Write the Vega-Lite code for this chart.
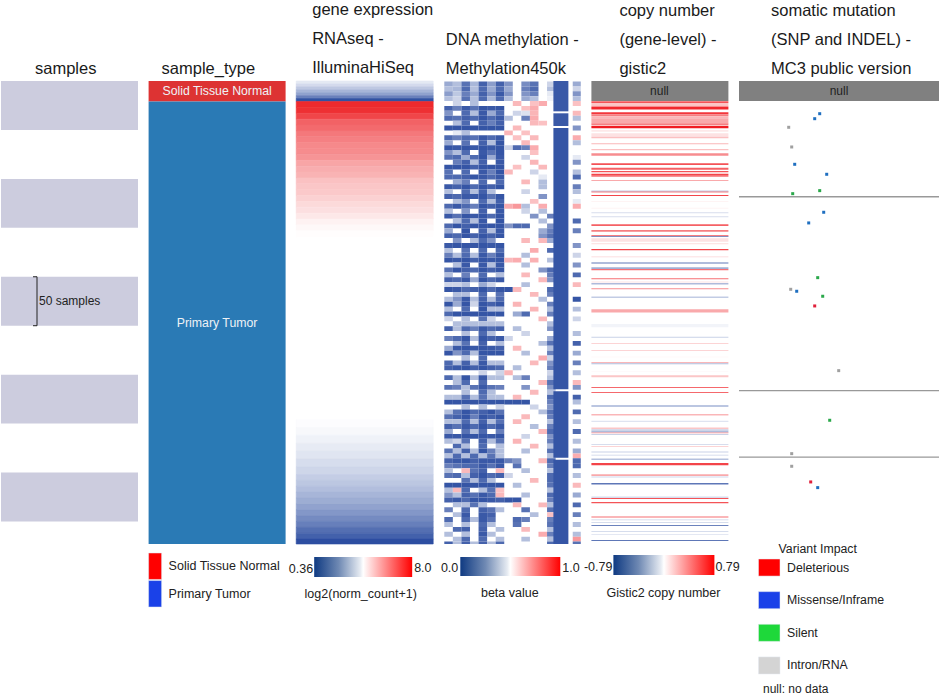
{"$schema":"https://vega.github.io/schema/vega-lite/v6.json","padding":{"left":1,"top":2,"right":0,"bottom":0},"background":"white","bounds":"flush","align":"each","columns":6,"spacing":{"column":10.6,"row":0},
"config":{"view":{"stroke":null},"font":"Liberation Sans","title":{"font":"Liberation Sans","fontSize":16.5,"fontWeight":"normal","anchor":"start","lineHeight":29,"color":"#1a1a1a","offset":4,"frame":"group"},"text":{"font":"Liberation Sans","color":"#222222"}},
"datasets":{
"samples":[{"s":0,"e":50},{"s":100,"e":150},{"s":200,"e":250},{"s":300,"e":350},{"s":400,"e":450}],
"types":[{"s":0,"e":21,"t":"Solid Tissue Normal"},{"s":21,"e":473,"t":"Primary Tumor"}],
"expr":[{"s":0,"e":3,"v":3.7},{"s":3,"e":6,"v":3.4},{"s":6,"e":9,"v":3.0},{"s":9,"e":12,"v":2.6},{"s":12,"e":15,"v":2.2},{"s":15,"e":18,"v":1.5},{"s":18,"e":21,"v":0.5},
{"s":21,"e":27,"v":8},{"s":27,"e":33,"v":7.9},{"s":33,"e":39,"v":7.5},{"s":39,"e":45,"v":7.0},{"s":45,"e":51,"v":6.85},{"s":51,"e":57,"v":6.6},{"s":57,"e":63,"v":6.45},{"s":63,"e":69,"v":6.3},{"s":69,"e":75,"v":6.25},{"s":75,"e":81,"v":6.1},{"s":81,"e":87,"v":5.8},{"s":87,"e":93,"v":5.65},{"s":93,"e":99,"v":5.55},{"s":99,"e":105,"v":5.3},{"s":105,"e":111,"v":5.2},{"s":111,"e":117,"v":5.15},{"s":117,"e":123,"v":5.0},{"s":123,"e":129,"v":4.85},{"s":129,"e":135,"v":4.75},{"s":135,"e":141,"v":4.6},{"s":141,"e":147,"v":4.42},{"s":147,"e":153,"v":4.3},{"s":153,"e":159,"v":4.22},
{"s":346,"e":354,"v":4.12},{"s":354,"e":362,"v":4.03},{"s":362,"e":370,"v":3.9},{"s":370,"e":378,"v":3.75},{"s":378,"e":386,"v":3.62},{"s":386,"e":394,"v":3.45},{"s":394,"e":402,"v":3.3},{"s":402,"e":408,"v":3.12},{"s":408,"e":414,"v":2.98},{"s":414,"e":420,"v":2.8},{"s":420,"e":426,"v":2.6},{"s":426,"e":432,"v":2.42},{"s":432,"e":438,"v":2.2},{"s":438,"e":444,"v":1.95},{"s":444,"e":450,"v":1.7},{"s":450,"e":456,"v":1.45},{"s":456,"e":462,"v":1.1},{"s":462,"e":468,"v":0.8},{"s":468,"e":473,"v":0.4}],
"strip":[{"s":0,"e":31,"p":12.8,"q":14.55,"v":0.06},{"s":33,"e":46,"p":12.8,"q":14.55,"v":0.06},{"s":48,"e":315,"p":12.8,"q":14.55,"v":0.05},{"s":317,"e":385,"p":12.8,"q":14.55,"v":0.05},{"s":387,"e":473,"p":12.8,"q":14.55,"v":0.05}],
"meth":[
{"s":0,"p":0,"v":0.25},{"s":0,"p":1,"v":0.3},{"s":0,"p":2,"v":0.12},{"s":0,"p":3,"v":0.28},{"s":0,"p":4,"v":0.08},{"s":0,"p":5,"v":0.22},{"s":0,"p":6,"v":0.08},{"s":0,"p":7,"v":0.2},{"s":0,"p":9,"v":0.18},{"s":0,"p":10,"v":0.12},{"s":0,"p":12,"v":0.35},{"s":0,"p":15,"v":0.25},
{"s":5,"p":0,"v":0.3},{"s":5,"p":1,"v":0.28},{"s":5,"p":2,"v":0.1},{"s":5,"p":3,"v":0.3},{"s":5,"p":4,"v":0.1},{"s":5,"p":5,"v":0.25},{"s":5,"p":6,"v":0.1},{"s":5,"p":7,"v":0.25},{"s":5,"p":9,"v":0.15},{"s":5,"p":10,"v":0.1},{"s":5,"p":12,"v":0.3},{"s":5,"p":15,"v":0.35},
{"s":10,"p":0,"v":0.22},{"s":10,"p":1,"v":0.32},{"s":10,"p":2,"v":0.15},{"s":10,"p":3,"v":0.25},{"s":10,"p":4,"v":0.08},{"s":10,"p":5,"v":0.2},{"s":10,"p":6,"v":0.06},{"s":10,"p":7,"v":0.2},{"s":10,"p":9,"v":0.2},{"s":10,"p":10,"v":0.15},{"s":10,"p":12,"v":0.4},{"s":10,"p":15,"v":0.2},
{"s":15,"p":0,"v":0.3},{"s":15,"p":1,"v":0.35},{"s":15,"p":2,"v":0.12},{"s":15,"p":3,"v":0.3},{"s":15,"p":4,"v":0.1},{"s":15,"p":5,"v":0.28},{"s":15,"p":6,"v":0.1},{"s":15,"p":7,"v":0.3},{"s":15,"p":9,"v":0.25},{"s":15,"p":10,"v":0.3},{"s":15,"p":12,"v":0.42},{"s":15,"p":15,"v":0.3},
{"s":20,"p":1,"v":0.35},{"s":20,"p":3,"v":0.3},{"s":20,"p":8,"v":0.62},{"s":20,"p":10,"v":0.6},{"s":20,"p":11,"v":0.65},{"s":20,"p":15,"v":0.6},
{"s":25,"p":0,"v":0.08},{"s":25,"p":1,"v":0.15},{"s":25,"p":2,"v":0.06},{"s":25,"p":3,"v":0.12},{"s":25,"p":4,"v":0.05},{"s":25,"p":5,"v":0.06},{"s":25,"p":6,"v":0.05},{"s":25,"p":9,"v":0.6},{"s":25,"p":10,"v":0.65},
{"s":30,"p":0,"v":0.2},{"s":30,"p":2,"v":0.1},{"s":30,"p":3,"v":0.3},{"s":30,"p":4,"v":0.06},{"s":30,"p":5,"v":0.25},{"s":30,"p":6,"v":0.1},{"s":30,"p":8,"v":0.35},{"s":30,"p":9,"v":0.38},{"s":30,"p":10,"v":0.63},{"s":30,"p":15,"v":0.62},
{"s":35,"p":0,"v":0.1},{"s":35,"p":1,"v":0.12},{"s":35,"p":2,"v":0.08},{"s":35,"p":3,"v":0.1},{"s":35,"p":4,"v":0.05},{"s":35,"p":5,"v":0.1},{"s":35,"p":6,"v":0.06},{"s":35,"p":7,"v":0.3},{"s":35,"p":9,"v":0.15},{"s":35,"p":10,"v":0.65},{"s":35,"p":15,"v":0.3},
{"s":40,"p":1,"v":0.3},{"s":40,"p":2,"v":0.1},{"s":40,"p":4,"v":0.08},{"s":40,"p":5,"v":0.15},{"s":40,"p":6,"v":0.08},{"s":40,"p":10,"v":0.62},{"s":40,"p":11,"v":0.6},
{"s":45,"p":0,"v":0.05},{"s":45,"p":1,"v":0.05},{"s":45,"p":2,"v":0.05},{"s":45,"p":3,"v":0.05},{"s":45,"p":4,"v":0.05},{"s":45,"p":5,"v":0.05},{"s":45,"p":6,"v":0.05},{"s":45,"p":8,"v":0.62},{"s":45,"p":15,"v":0.2},
{"s":50,"p":1,"v":0.4},{"s":50,"p":2,"v":0.3},{"s":50,"p":7,"v":0.63},{"s":50,"p":9,"v":0.6},
{"s":55,"p":0,"v":0.1},{"s":55,"p":1,"v":0.15},{"s":55,"p":2,"v":0.1},{"s":55,"p":3,"v":0.12},{"s":55,"p":4,"v":0.06},{"s":55,"p":5,"v":0.1},{"s":55,"p":6,"v":0.06},{"s":55,"p":8,"v":0.6},{"s":55,"p":10,"v":0.62},{"s":55,"p":15,"v":0.65},
{"s":60,"p":0,"v":0.25},{"s":60,"p":2,"v":0.12},{"s":60,"p":4,"v":0.08},{"s":60,"p":5,"v":0.3},{"s":60,"p":6,"v":0.05},{"s":60,"p":9,"v":0.62},{"s":60,"p":15,"v":0.3},
{"s":65,"p":0,"v":0.05},{"s":65,"p":1,"v":0.06},{"s":65,"p":2,"v":0.05},{"s":65,"p":3,"v":0.06},{"s":65,"p":4,"v":0.05},{"s":65,"p":5,"v":0.06},{"s":65,"p":6,"v":0.05},{"s":65,"p":7,"v":0.35},{"s":65,"p":8,"v":0.1},{"s":65,"p":9,"v":0.15},{"s":65,"p":10,"v":0.65},
{"s":70,"p":0,"v":0.2},{"s":70,"p":1,"v":0.3},{"s":70,"p":2,"v":0.1},{"s":70,"p":4,"v":0.06},{"s":70,"p":5,"v":0.12},{"s":70,"p":6,"v":0.05},{"s":70,"p":10,"v":0.6},
{"s":75,"p":0,"v":0.12},{"s":75,"p":1,"v":0.1},{"s":75,"p":2,"v":0.25},{"s":75,"p":3,"v":0.1},{"s":75,"p":4,"v":0.05},{"s":75,"p":5,"v":0.25},{"s":75,"p":6,"v":0.06},{"s":75,"p":9,"v":0.35},{"s":75,"p":15,"v":0.4},
{"s":80,"p":1,"v":0.15},{"s":80,"p":2,"v":0.08},{"s":80,"p":3,"v":0.3},{"s":80,"p":4,"v":0.08},{"s":80,"p":6,"v":0.06},{"s":80,"p":10,"v":0.63},{"s":80,"p":15,"v":0.2},
{"s":85,"p":0,"v":0.05},{"s":85,"p":1,"v":0.05},{"s":85,"p":2,"v":0.05},{"s":85,"p":3,"v":0.08},{"s":85,"p":4,"v":0.05},{"s":85,"p":5,"v":0.05},{"s":85,"p":6,"v":0.05},{"s":85,"p":8,"v":0.6},{"s":85,"p":11,"v":0.62},
{"s":90,"p":0,"v":0.12},{"s":90,"p":2,"v":0.1},{"s":90,"p":4,"v":0.06},{"s":90,"p":5,"v":0.15},{"s":90,"p":6,"v":0.05},{"s":90,"p":7,"v":0.62},{"s":90,"p":10,"v":0.35},{"s":90,"p":15,"v":0.3},
{"s":95,"p":0,"v":0.1},{"s":95,"p":1,"v":0.1},{"s":95,"p":2,"v":0.08},{"s":95,"p":3,"v":0.05},{"s":95,"p":4,"v":0.06},{"s":95,"p":5,"v":0.1},{"s":95,"p":6,"v":0.06},{"s":95,"p":11,"v":0.4},{"s":95,"p":15,"v":0.1},
{"s":100,"p":1,"v":0.25},{"s":100,"p":2,"v":0.15},{"s":100,"p":4,"v":0.1},{"s":100,"p":6,"v":0.1},{"s":100,"p":9,"v":0.62},{"s":100,"p":11,"v":0.3},
{"s":105,"p":0,"v":0.06},{"s":105,"p":1,"v":0.08},{"s":105,"p":2,"v":0.05},{"s":105,"p":3,"v":0.1},{"s":105,"p":4,"v":0.05},{"s":105,"p":5,"v":0.08},{"s":105,"p":6,"v":0.05},{"s":105,"p":11,"v":0.3},{"s":105,"p":15,"v":0.15},
{"s":110,"p":0,"v":0.3},{"s":110,"p":2,"v":0.1},{"s":110,"p":3,"v":0.3},{"s":110,"p":4,"v":0.08},{"s":110,"p":5,"v":0.3},{"s":110,"p":9,"v":0.35},{"s":110,"p":15,"v":0.3},
{"s":115,"p":0,"v":0.08},{"s":115,"p":1,"v":0.1},{"s":115,"p":2,"v":0.06},{"s":115,"p":3,"v":0.06},{"s":115,"p":4,"v":0.05},{"s":115,"p":5,"v":0.12},{"s":115,"p":6,"v":0.05},{"s":115,"p":11,"v":0.2},
{"s":120,"p":1,"v":0.3},{"s":120,"p":2,"v":0.2},{"s":120,"p":4,"v":0.1},{"s":120,"p":5,"v":0.3},{"s":120,"p":6,"v":0.08},{"s":120,"p":10,"v":0.6},{"s":120,"p":15,"v":0.4},
{"s":125,"p":0,"v":0.1},{"s":125,"p":1,"v":0.06},{"s":125,"p":2,"v":0.1},{"s":125,"p":3,"v":0.15},{"s":125,"p":4,"v":0.05},{"s":125,"p":5,"v":0.08},{"s":125,"p":6,"v":0.05},{"s":125,"p":7,"v":0.65},{"s":125,"p":8,"v":0.7},{"s":125,"p":9,"v":0.3},{"s":125,"p":11,"v":0.65},{"s":125,"p":15,"v":0.65},
{"s":130,"p":0,"v":0.3},{"s":130,"p":2,"v":0.2},{"s":130,"p":4,"v":0.08},{"s":130,"p":6,"v":0.06},{"s":130,"p":9,"v":0.35},{"s":130,"p":11,"v":0.3},
{"s":135,"p":0,"v":0.06},{"s":135,"p":1,"v":0.12},{"s":135,"p":2,"v":0.05},{"s":135,"p":3,"v":0.06},{"s":135,"p":4,"v":0.05},{"s":135,"p":5,"v":0.1},{"s":135,"p":6,"v":0.05},{"s":135,"p":10,"v":0.2},{"s":135,"p":12,"v":0.15},
{"s":140,"p":1,"v":0.3},{"s":140,"p":2,"v":0.1},{"s":140,"p":3,"v":0.3},{"s":140,"p":4,"v":0.06},{"s":140,"p":6,"v":0.05},{"s":140,"p":11,"v":0.3},{"s":140,"p":15,"v":0.1},
{"s":145,"p":0,"v":0.1},{"s":145,"p":1,"v":0.05},{"s":145,"p":2,"v":0.08},{"s":145,"p":3,"v":0.05},{"s":145,"p":4,"v":0.05},{"s":145,"p":5,"v":0.05},{"s":145,"p":6,"v":0.05},{"s":145,"p":7,"v":0.2},{"s":145,"p":8,"v":0.1},{"s":145,"p":9,"v":0.1},{"s":145,"p":12,"v":0.2},
{"s":150,"p":0,"v":0.25},{"s":150,"p":2,"v":0.05},{"s":150,"p":4,"v":0.08},{"s":150,"p":5,"v":0.3},{"s":150,"p":6,"v":0.06},{"s":150,"p":11,"v":0.25},{"s":150,"p":12,"v":0.15},{"s":150,"p":15,"v":0.15},
{"s":155,"p":0,"v":0.08},{"s":155,"p":1,"v":0.1},{"s":155,"p":2,"v":0.05},{"s":155,"p":3,"v":0.08},{"s":155,"p":4,"v":0.05},{"s":155,"p":5,"v":0.08},{"s":155,"p":6,"v":0.05},{"s":155,"p":11,"v":0.2},{"s":155,"p":12,"v":0.12},
{"s":160,"p":1,"v":0.2},{"s":160,"p":3,"v":0.3},{"s":160,"p":4,"v":0.1},{"s":160,"p":5,"v":0.2},{"s":160,"p":9,"v":0.62},{"s":160,"p":11,"v":0.62},{"s":160,"p":12,"v":0.25},
{"s":165,"p":0,"v":0.06},{"s":165,"p":1,"v":0.05},{"s":165,"p":2,"v":0.05},{"s":165,"p":3,"v":0.05},{"s":165,"p":4,"v":0.05},{"s":165,"p":5,"v":0.06},{"s":165,"p":6,"v":0.05},{"s":165,"p":15,"v":0.2},
{"s":170,"p":0,"v":0.3},{"s":170,"p":2,"v":0.12},{"s":170,"p":4,"v":0.1},{"s":170,"p":6,"v":0.1},{"s":170,"p":10,"v":0.65},{"s":170,"p":12,"v":0.1},
{"s":175,"p":0,"v":0.15},{"s":175,"p":1,"v":0.3},{"s":175,"p":2,"v":0.1},{"s":175,"p":3,"v":0.3},{"s":175,"p":4,"v":0.06},{"s":175,"p":5,"v":0.15},{"s":175,"p":6,"v":0.06},{"s":175,"p":9,"v":0.3},{"s":175,"p":15,"v":0.35},
{"s":180,"p":0,"v":0.05},{"s":180,"p":1,"v":0.06},{"s":180,"p":2,"v":0.05},{"s":180,"p":3,"v":0.08},{"s":180,"p":4,"v":0.05},{"s":180,"p":5,"v":0.06},{"s":180,"p":6,"v":0.05},{"s":180,"p":7,"v":0.62},{"s":180,"p":8,"v":0.65},{"s":180,"p":10,"v":0.64},{"s":180,"p":12,"v":0.3},
{"s":185,"p":1,"v":0.3},{"s":185,"p":2,"v":0.06},{"s":185,"p":4,"v":0.06},{"s":185,"p":5,"v":0.3},{"s":185,"p":6,"v":0.06},{"s":185,"p":9,"v":0.3},{"s":185,"p":15,"v":0.2},
{"s":190,"p":0,"v":0.12},{"s":190,"p":1,"v":0.05},{"s":190,"p":2,"v":0.08},{"s":190,"p":3,"v":0.1},{"s":190,"p":4,"v":0.05},{"s":190,"p":5,"v":0.08},{"s":190,"p":6,"v":0.05},{"s":190,"p":11,"v":0.2},{"s":190,"p":12,"v":0.1},
{"s":195,"p":0,"v":0.3},{"s":195,"p":2,"v":0.15},{"s":195,"p":4,"v":0.1},{"s":195,"p":6,"v":0.3},{"s":195,"p":9,"v":0.62},{"s":195,"p":12,"v":0.15},{"s":195,"p":15,"v":0.1},
{"s":200,"p":0,"v":0.08},{"s":200,"p":1,"v":0.1},{"s":200,"p":2,"v":0.06},{"s":200,"p":3,"v":0.25},{"s":200,"p":4,"v":0.05},{"s":200,"p":5,"v":0.1},{"s":200,"p":6,"v":0.06},{"s":200,"p":11,"v":0.62},{"s":200,"p":12,"v":0.2},
{"s":205,"p":0,"v":0.35},{"s":205,"p":1,"v":0.35},{"s":205,"p":2,"v":0.3},{"s":205,"p":4,"v":0.25},{"s":205,"p":5,"v":0.35},{"s":205,"p":9,"v":0.3},{"s":205,"p":15,"v":0.62},
{"s":210,"p":0,"v":0.05},{"s":210,"p":1,"v":0.06},{"s":210,"p":2,"v":0.1},{"s":210,"p":3,"v":0.08},{"s":210,"p":4,"v":0.05},{"s":210,"p":5,"v":0.1},{"s":210,"p":6,"v":0.05},{"s":210,"p":7,"v":0.05},{"s":210,"p":8,"v":0.62},{"s":210,"p":12,"v":0.1},
{"s":215,"p":1,"v":0.3},{"s":215,"p":2,"v":0.3},{"s":215,"p":4,"v":0.1},{"s":215,"p":6,"v":0.12},{"s":215,"p":10,"v":0.62},{"s":215,"p":12,"v":0.15},
{"s":220,"p":0,"v":0.3},{"s":220,"p":1,"v":0.2},{"s":220,"p":2,"v":0.06},{"s":220,"p":3,"v":0.3},{"s":220,"p":4,"v":0.08},{"s":220,"p":5,"v":0.3},{"s":220,"p":6,"v":0.1},{"s":220,"p":11,"v":0.3},{"s":220,"p":15,"v":0.05},
{"s":225,"p":0,"v":0.05},{"s":225,"p":1,"v":0.25},{"s":225,"p":2,"v":0.05},{"s":225,"p":3,"v":0.35},{"s":225,"p":4,"v":0.05},{"s":225,"p":5,"v":0.08},{"s":225,"p":6,"v":0.05},{"s":225,"p":8,"v":0.63},{"s":225,"p":12,"v":0.15},
{"s":230,"p":0,"v":0.3},{"s":230,"p":2,"v":0.1},{"s":230,"p":4,"v":0.05},{"s":230,"p":5,"v":0.3},{"s":230,"p":6,"v":0.3},{"s":230,"p":10,"v":0.63},{"s":230,"p":12,"v":0.3},{"s":230,"p":15,"v":0.3},
{"s":235,"p":0,"v":0.1},{"s":235,"p":1,"v":0.05},{"s":235,"p":2,"v":0.05},{"s":235,"p":3,"v":0.05},{"s":235,"p":4,"v":0.05},{"s":235,"p":5,"v":0.05},{"s":235,"p":6,"v":0.05},{"s":235,"p":8,"v":0.25},{"s":235,"p":9,"v":0.1},{"s":235,"p":12,"v":0.15},
{"s":240,"p":0,"v":0.35},{"s":240,"p":2,"v":0.3},{"s":240,"p":4,"v":0.12},{"s":240,"p":5,"v":0.35},{"s":240,"p":11,"v":0.62},{"s":240,"p":15,"v":0.35},
{"s":245,"p":1,"v":0.3},{"s":245,"p":2,"v":0.3},{"s":245,"p":3,"v":0.3},{"s":245,"p":4,"v":0.3},{"s":245,"p":5,"v":0.3},{"s":245,"p":6,"v":0.3},{"s":245,"p":12,"v":0.3},
{"s":250,"p":0,"v":0.08},{"s":250,"p":1,"v":0.3},{"s":250,"p":2,"v":0.1},{"s":250,"p":3,"v":0.15},{"s":250,"p":4,"v":0.06},{"s":250,"p":5,"v":0.1},{"s":250,"p":6,"v":0.08},{"s":250,"p":8,"v":0.3},{"s":250,"p":12,"v":0.2},
{"s":255,"p":2,"v":0.3},{"s":255,"p":4,"v":0.1},{"s":255,"p":5,"v":0.3},{"s":255,"p":9,"v":0.35},{"s":255,"p":15,"v":0.3},
{"s":260,"p":0,"v":0.15},{"s":260,"p":1,"v":0.1},{"s":260,"p":2,"v":0.05},{"s":260,"p":3,"v":0.3},{"s":260,"p":4,"v":0.05},{"s":260,"p":5,"v":0.08},{"s":260,"p":6,"v":0.06},{"s":260,"p":7,"v":0.35},{"s":260,"p":12,"v":0.25},
{"s":265,"p":1,"v":0.3},{"s":265,"p":2,"v":0.12},{"s":265,"p":4,"v":0.08},{"s":265,"p":6,"v":0.3},{"s":265,"p":11,"v":0.3},{"s":265,"p":12,"v":0.12},{"s":265,"p":15,"v":0.08},
{"s":270,"p":0,"v":0.25},{"s":270,"p":1,"v":0.06},{"s":270,"p":2,"v":0.05},{"s":270,"p":3,"v":0.06},{"s":270,"p":4,"v":0.05},{"s":270,"p":5,"v":0.06},{"s":270,"p":6,"v":0.08},{"s":270,"p":8,"v":0.62},{"s":270,"p":12,"v":0.3},
{"s":275,"p":0,"v":0.05},{"s":275,"p":1,"v":0.2},{"s":275,"p":2,"v":0.1},{"s":275,"p":3,"v":0.3},{"s":275,"p":4,"v":0.05},{"s":275,"p":5,"v":0.05},{"s":275,"p":6,"v":0.05},{"s":275,"p":9,"v":0.3},{"s":275,"p":12,"v":0.15},{"s":275,"p":15,"v":0.25},
{"s":280,"p":2,"v":0.3},{"s":280,"p":4,"v":0.1},{"s":280,"p":11,"v":0.65},{"s":280,"p":12,"v":0.35},
{"s":285,"p":0,"v":0.1},{"s":285,"p":1,"v":0.3},{"s":285,"p":2,"v":0.08},{"s":285,"p":3,"v":0.3},{"s":285,"p":4,"v":0.06},{"s":285,"p":5,"v":0.3},{"s":285,"p":6,"v":0.3},{"s":285,"p":10,"v":0.62},{"s":285,"p":12,"v":0.2},{"s":285,"p":15,"v":0.15},
{"s":290,"p":0,"v":0.08},{"s":290,"p":1,"v":0.06},{"s":290,"p":2,"v":0.05},{"s":290,"p":3,"v":0.08},{"s":290,"p":4,"v":0.05},{"s":290,"p":5,"v":0.08},{"s":290,"p":6,"v":0.1},{"s":290,"p":8,"v":0.3},{"s":290,"p":12,"v":0.15},
{"s":295,"p":4,"v":0.35},{"s":295,"p":6,"v":0.35},{"s":295,"p":7,"v":0.63},{"s":295,"p":12,"v":0.35},{"s":295,"p":15,"v":0.3},
{"s":300,"p":0,"v":0.1},{"s":300,"p":1,"v":0.3},{"s":300,"p":2,"v":0.05},{"s":300,"p":3,"v":0.3},{"s":300,"p":4,"v":0.06},{"s":300,"p":5,"v":0.3},{"s":300,"p":6,"v":0.3},{"s":300,"p":8,"v":0.3},{"s":300,"p":9,"v":0.15},{"s":300,"p":12,"v":0.3},
{"s":305,"p":1,"v":0.3},{"s":305,"p":2,"v":0.1},{"s":305,"p":4,"v":0.1},{"s":305,"p":11,"v":0.62},{"s":305,"p":12,"v":0.12},{"s":305,"p":15,"v":0.62},
{"s":310,"p":0,"v":0.12},{"s":310,"p":1,"v":0.15},{"s":310,"p":2,"v":0.3},{"s":310,"p":3,"v":0.12},{"s":310,"p":4,"v":0.06},{"s":310,"p":5,"v":0.12},{"s":310,"p":6,"v":0.15},{"s":310,"p":9,"v":0.2},{"s":310,"p":12,"v":0.2},{"s":310,"p":15,"v":0.2},
{"s":315,"p":2,"v":0.3},{"s":315,"p":4,"v":0.1},{"s":315,"p":5,"v":0.3},{"s":315,"p":10,"v":0.62},{"s":315,"p":12,"v":0.3},
{"s":320,"p":0,"v":0.3},{"s":320,"p":1,"v":0.3},{"s":320,"p":2,"v":0.12},{"s":320,"p":3,"v":0.3},{"s":320,"p":4,"v":0.12},{"s":320,"p":5,"v":0.3},{"s":320,"p":6,"v":0.3},{"s":320,"p":8,"v":0.62},{"s":320,"p":12,"v":0.1},{"s":320,"p":15,"v":0.08},
{"s":325,"p":0,"v":0.05},{"s":325,"p":1,"v":0.05},{"s":325,"p":2,"v":0.05},{"s":325,"p":3,"v":0.05},{"s":325,"p":4,"v":0.05},{"s":325,"p":5,"v":0.05},{"s":325,"p":6,"v":0.05},{"s":325,"p":7,"v":0.05},{"s":325,"p":8,"v":0.05},{"s":325,"p":9,"v":0.05},{"s":325,"p":12,"v":0.15},{"s":325,"p":15,"v":0.3},
{"s":330,"p":2,"v":0.3},{"s":330,"p":4,"v":0.3},{"s":330,"p":6,"v":0.35},{"s":330,"p":10,"v":0.35},{"s":330,"p":12,"v":0.2},
{"s":335,"p":0,"v":0.3},{"s":335,"p":1,"v":0.12},{"s":335,"p":2,"v":0.05},{"s":335,"p":3,"v":0.1},{"s":335,"p":4,"v":0.08},{"s":335,"p":5,"v":0.05},{"s":335,"p":6,"v":0.12},{"s":335,"p":11,"v":0.3},{"s":335,"p":12,"v":0.12},{"s":335,"p":15,"v":0.1},
{"s":340,"p":0,"v":0.12},{"s":340,"p":1,"v":0.08},{"s":340,"p":2,"v":0.05},{"s":340,"p":3,"v":0.15},{"s":340,"p":4,"v":0.05},{"s":340,"p":5,"v":0.08},{"s":340,"p":6,"v":0.05},{"s":340,"p":9,"v":0.62},{"s":340,"p":12,"v":0.15},
{"s":345,"p":0,"v":0.3},{"s":345,"p":1,"v":0.3},{"s":345,"p":2,"v":0.1},{"s":345,"p":3,"v":0.3},{"s":345,"p":4,"v":0.08},{"s":345,"p":5,"v":0.3},{"s":345,"p":6,"v":0.12},{"s":345,"p":8,"v":0.62},{"s":345,"p":12,"v":0.3},{"s":345,"p":15,"v":0.3},
{"s":350,"p":0,"v":0.08},{"s":350,"p":1,"v":0.12},{"s":350,"p":2,"v":0.06},{"s":350,"p":3,"v":0.1},{"s":350,"p":4,"v":0.05},{"s":350,"p":5,"v":0.1},{"s":350,"p":6,"v":0.06},{"s":350,"p":10,"v":0.3},{"s":350,"p":12,"v":0.15},
{"s":355,"p":0,"v":0.25},{"s":355,"p":2,"v":0.12},{"s":355,"p":3,"v":0.3},{"s":355,"p":4,"v":0.1},{"s":355,"p":6,"v":0.15},{"s":355,"p":11,"v":0.62},{"s":355,"p":12,"v":0.1},{"s":355,"p":15,"v":0.1},
{"s":360,"p":0,"v":0.06},{"s":360,"p":1,"v":0.06},{"s":360,"p":2,"v":0.05},{"s":360,"p":3,"v":0.05},{"s":360,"p":4,"v":0.05},{"s":360,"p":5,"v":0.06},{"s":360,"p":6,"v":0.05},{"s":360,"p":9,"v":0.35},{"s":360,"p":12,"v":0.2},
{"s":365,"p":0,"v":0.3},{"s":365,"p":1,"v":0.35},{"s":365,"p":2,"v":0.12},{"s":365,"p":4,"v":0.08},{"s":365,"p":5,"v":0.3},{"s":365,"p":6,"v":0.12},{"s":365,"p":8,"v":0.63},{"s":365,"p":12,"v":0.15},{"s":365,"p":15,"v":0.3},
{"s":370,"p":1,"v":0.1},{"s":370,"p":2,"v":0.3},{"s":370,"p":4,"v":0.1},{"s":370,"p":6,"v":0.3},{"s":370,"p":10,"v":0.62},{"s":370,"p":12,"v":0.3},
{"s":375,"p":0,"v":0.12},{"s":375,"p":1,"v":0.3},{"s":375,"p":2,"v":0.08},{"s":375,"p":3,"v":0.3},{"s":375,"p":4,"v":0.05},{"s":375,"p":5,"v":0.15},{"s":375,"p":6,"v":0.3},{"s":375,"p":9,"v":0.3},{"s":375,"p":12,"v":0.12},{"s":375,"p":15,"v":0.25},
{"s":380,"p":0,"v":0.3},{"s":380,"p":1,"v":0.1},{"s":380,"p":2,"v":0.3},{"s":380,"p":3,"v":0.1},{"s":380,"p":4,"v":0.3},{"s":380,"p":5,"v":0.12},{"s":380,"p":6,"v":0.3},{"s":380,"p":12,"v":0.3},{"s":380,"p":15,"v":0.65},
{"s":385,"p":0,"v":0.08},{"s":385,"p":1,"v":0.06},{"s":385,"p":2,"v":0.05},{"s":385,"p":3,"v":0.08},{"s":385,"p":4,"v":0.06},{"s":385,"p":5,"v":0.06},{"s":385,"p":6,"v":0.06},{"s":385,"p":7,"v":0.15},{"s":385,"p":8,"v":0.2},{"s":385,"p":11,"v":0.62},{"s":385,"p":12,"v":0.1},{"s":385,"p":15,"v":0.1},
{"s":390,"p":0,"v":0.15},{"s":390,"p":1,"v":0.12},{"s":390,"p":2,"v":0.1},{"s":390,"p":3,"v":0.1},{"s":390,"p":4,"v":0.06},{"s":390,"p":5,"v":0.12},{"s":390,"p":6,"v":0.06},{"s":390,"p":8,"v":0.12},{"s":390,"p":12,"v":0.15},{"s":390,"p":15,"v":0.1},
{"s":395,"p":0,"v":0.3},{"s":395,"p":2,"v":0.62},{"s":395,"p":3,"v":0.12},{"s":395,"p":4,"v":0.08},{"s":395,"p":6,"v":0.62},{"s":395,"p":9,"v":0.3},{"s":395,"p":12,"v":0.3},
{"s":400,"p":0,"v":0.12},{"s":400,"p":1,"v":0.1},{"s":400,"p":2,"v":0.3},{"s":400,"p":3,"v":0.08},{"s":400,"p":4,"v":0.05},{"s":400,"p":5,"v":0.1},{"s":400,"p":6,"v":0.08},{"s":400,"p":7,"v":0.35},{"s":400,"p":12,"v":0.1},{"s":400,"p":15,"v":0.3},
{"s":405,"p":2,"v":0.12},{"s":405,"p":3,"v":0.3},{"s":405,"p":4,"v":0.1},{"s":405,"p":5,"v":0.3},{"s":405,"p":10,"v":0.62},{"s":405,"p":12,"v":0.1},
{"s":410,"p":0,"v":0.05},{"s":410,"p":1,"v":0.05},{"s":410,"p":2,"v":0.05},{"s":410,"p":3,"v":0.05},{"s":410,"p":4,"v":0.05},{"s":410,"p":5,"v":0.05},{"s":410,"p":6,"v":0.05},{"s":410,"p":8,"v":0.3},{"s":410,"p":12,"v":0.12},{"s":410,"p":15,"v":0.62},
{"s":415,"p":0,"v":0.3},{"s":415,"p":1,"v":0.62},{"s":415,"p":2,"v":0.1},{"s":415,"p":4,"v":0.3},{"s":415,"p":5,"v":0.12},{"s":415,"p":6,"v":0.6},{"s":415,"p":12,"v":0.3},
{"s":420,"p":0,"v":0.2},{"s":420,"p":1,"v":0.3},{"s":420,"p":2,"v":0.08},{"s":420,"p":3,"v":0.12},{"s":420,"p":4,"v":0.06},{"s":420,"p":5,"v":0.1},{"s":420,"p":6,"v":0.62},{"s":420,"p":9,"v":0.3},{"s":420,"p":12,"v":0.1},{"s":420,"p":15,"v":0.25},
{"s":425,"p":0,"v":0.08},{"s":425,"p":1,"v":0.06},{"s":425,"p":2,"v":0.1},{"s":425,"p":3,"v":0.05},{"s":425,"p":4,"v":0.05},{"s":425,"p":5,"v":0.06},{"s":425,"p":6,"v":0.08},{"s":425,"p":7,"v":0.05},{"s":425,"p":8,"v":0.05},{"s":425,"p":12,"v":0.15},
{"s":430,"p":1,"v":0.3},{"s":430,"p":2,"v":0.3},{"s":430,"p":3,"v":0.12},{"s":430,"p":4,"v":0.3},{"s":430,"p":8,"v":0.62},{"s":430,"p":11,"v":0.62},{"s":430,"p":12,"v":0.3},{"s":430,"p":15,"v":0.1},
{"s":435,"p":0,"v":0.15},{"s":435,"p":2,"v":0.1},{"s":435,"p":4,"v":0.08},{"s":435,"p":5,"v":0.12},{"s":435,"p":6,"v":0.3},{"s":435,"p":9,"v":0.12},{"s":435,"p":12,"v":0.12},
{"s":440,"p":1,"v":0.3},{"s":440,"p":2,"v":0.06},{"s":440,"p":4,"v":0.06},{"s":440,"p":5,"v":0.08},{"s":440,"p":10,"v":0.3},{"s":440,"p":12,"v":0.6},{"s":440,"p":15,"v":0.15},
{"s":445,"p":0,"v":0.1},{"s":445,"p":2,"v":0.1},{"s":445,"p":3,"v":0.3},{"s":445,"p":4,"v":0.06},{"s":445,"p":5,"v":0.12},{"s":445,"p":8,"v":0.1},{"s":445,"p":9,"v":0.15},{"s":445,"p":12,"v":0.15},
{"s":450,"p":0,"v":0.3},{"s":450,"p":2,"v":0.3},{"s":450,"p":4,"v":0.1},{"s":450,"p":5,"v":0.3},{"s":450,"p":8,"v":0.12},{"s":450,"p":12,"v":0.12},{"s":450,"p":15,"v":0.3},
{"s":455,"p":1,"v":0.1},{"s":455,"p":2,"v":0.08},{"s":455,"p":4,"v":0.08},{"s":455,"p":6,"v":0.3},{"s":455,"p":9,"v":0.62},{"s":455,"p":12,"v":0.3},
{"s":460,"p":0,"v":0.3},{"s":460,"p":2,"v":0.3},{"s":460,"p":4,"v":0.06},{"s":460,"p":5,"v":0.3},{"s":460,"p":11,"v":0.65},{"s":460,"p":12,"v":0.15},{"s":460,"p":15,"v":0.3},
{"s":465,"p":1,"v":0.3},{"s":465,"p":2,"v":0.1},{"s":465,"p":4,"v":0.1},{"s":465,"p":6,"v":0.3},{"s":465,"p":9,"v":0.3},{"s":465,"p":12,"v":0.3},{"s":465,"p":15,"v":0.7},
{"s":470,"p":0,"v":0.08},{"s":470,"p":1,"v":0.3},{"s":470,"p":2,"v":0.08},{"s":470,"p":3,"v":0.3},{"s":470,"p":4,"v":0.08},{"s":470,"p":5,"v":0.3},{"s":470,"p":6,"v":0.1},{"s":470,"p":12,"v":0.1},{"s":470,"p":15,"v":0.12}
],
"cnv":[{"s":20.8,"e":22.5,"v":0.6},{"s":22.5,"e":25.2,"v":0.2},{"s":25.2,"e":26.6,"v":0.4},{"s":26.6,"e":29,"v":0.75},{"s":32,"e":34,"v":0.7},{"s":34,"e":36,"v":0.45},{"s":36,"e":38,"v":0.25},{"s":38,"e":43.2,"v":0.3},{"s":43.2,"e":45,"v":0.45},{"s":45.6,"e":48.3,"v":0.79},{"s":50,"e":51.8,"v":0.08},{"s":53.5,"e":56.9,"v":0.1},{"s":56.9,"e":58.6,"v":0.22},{"s":63.7,"e":64.7,"v":0.25},{"s":69.5,"e":70.8,"v":0.22},{"s":73.9,"e":76.3,"v":0.4},{"s":84.1,"e":85.8,"v":0.6},{"s":88.5,"e":90.6,"v":0.55},{"s":92,"e":93.3,"v":0.6},{"s":94.7,"e":96.7,"v":0.65},{"s":97.4,"e":98.2,"v":0.5},{"s":101.1,"e":102.1,"v":0.3},{"s":112,"e":113,"v":-0.45},{"s":113,"e":114,"v":0.45},{"s":116.4,"e":117.5,"v":0.65},{"s":122.6,"e":123.6,"v":0.04},{"s":129.4,"e":130.4,"v":0.04},{"s":134.2,"e":135.2,"v":-0.15},{"s":138.2,"e":139.2,"v":-0.15},{"s":146.4,"e":148.1,"v":0.55},{"s":152.2,"e":153.9,"v":0.45},{"s":157.6,"e":158.7,"v":0.6},{"s":158.7,"e":159.4,"v":-0.6},{"s":160.7,"e":164.1,"v":0.1},{"s":165.8,"e":166.8,"v":0.12},{"s":171.6,"e":173,"v":0.65},{"s":179.4,"e":180.1,"v":0.15},{"s":185.2,"e":186.6,"v":-0.4},{"s":190.3,"e":192,"v":-0.35},{"s":192,"e":193.4,"v":0.5},{"s":201.6,"e":202.6,"v":0.5},{"s":205,"e":205.6,"v":0.2},{"s":207,"e":207.7,"v":-0.6},{"s":211.8,"e":212.8,"v":0.4},{"s":220.3,"e":221.3,"v":-0.45},
{"s":233.2,"e":236.6,"v":0.3},{"s":248.2,"e":251.6,"v":-0.05},{"s":261.2,"e":262.2,"v":-0.2},{"s":268,"e":268.7,"v":0.2},{"s":275.1,"e":275.8,"v":0.2},{"s":281.6,"e":282.3,"v":0.05},{"s":287,"e":287.7,"v":0.5},{"s":288.4,"e":289.4,"v":-0.3},{"s":296.2,"e":296.9,"v":0.03},{"s":300.6,"e":302.7,"v":0.2},{"s":312.9,"e":313.7,"v":0.7},{"s":317.7,"e":318.5,"v":0.7},{"s":331.6,"e":332.6,"v":-0.5},{"s":340.8,"e":341.5,"v":0.5},{"s":347,"e":348.3,"v":-0.12},{"s":354.1,"e":355.8,"v":0.2},{"s":355.8,"e":357.2,"v":-0.2},{"s":357.2,"e":359.2,"v":-0.3},{"s":359.2,"e":359.9,"v":0.4},{"s":360.6,"e":361.6,"v":-0.2},{"s":370.8,"e":371.8,"v":-0.15},{"s":373.2,"e":373.9,"v":0.2},{"s":378.6,"e":379.6,"v":-0.2},{"s":381.7,"e":382.7,"v":-0.2},{"s":385.8,"e":386.8,"v":-0.55},{"s":390.2,"e":392.6,"v":0.65},{"s":401.8,"e":403.5,"v":0.3},{"s":404.2,"e":404.8,"v":-0.35},{"s":410.6,"e":412.3,"v":-0.6},{"s":424.6,"e":426,"v":-0.15},{"s":426,"e":427,"v":0.6},{"s":430,"e":431.4,"v":0.6},{"s":445,"e":446,"v":0.5},{"s":448,"e":448.8,"v":-0.2},{"s":450.8,"e":451.5,"v":-0.2},{"s":453.5,"e":454.5,"v":-0.55},{"s":460,"e":460.7,"v":-0.2},{"s":462.7,"e":463.4,"v":-0.2},{"s":468.9,"e":469.9,"v":-0.6}],
"nulls":[{"s":0,"e":20.5,"t":"null"}],
"gaps":[{"s":117.6,"e":119},{"s":315.7,"e":317},{"s":383.7,"e":385}],
"muts":[{"s":33.4,"p":80.7,"k":"Missense/Inframe"},{"s":38.5,"p":75.7,"k":"Missense/Inframe"},{"s":47.3,"p":49.7,"k":"Intron/RNA"},{"s":67.4,"p":52.7,"k":"Intron/RNA"},{"s":85.1,"p":55.7,"k":"Missense/Inframe"},{"s":95.3,"p":87.7,"k":"Missense/Inframe"},{"s":112,"p":80.7,"k":"Silent"},{"s":115.1,"p":53.7,"k":"Silent"},{"s":134.1,"p":84.7,"k":"Missense/Inframe"},{"s":145,"p":69.7,"k":"Missense/Inframe"},{"s":200.9,"p":78.7,"k":"Silent"},{"s":212.8,"p":51.7,"k":"Intron/RNA"},{"s":214.8,"p":57.7,"k":"Missense/Inframe"},{"s":219.9,"p":83.7,"k":"Silent"},{"s":229.8,"p":75.7,"k":"Deleterious"},{"s":295.9,"p":99.7,"k":"Intron/RNA"},{"s":346.6,"p":90.7,"k":"Silent"},{"s":380.7,"p":52.7,"k":"Intron/RNA"},{"s":393.6,"p":52.7,"k":"Intron/RNA"},{"s":409.6,"p":71.7,"k":"Deleterious"},{"s":415.4,"p":78.7,"k":"Missense/Inframe"}]
},
"concat":[
{"width":137,"height":463,"title":{"text":"samples","dx":34},
"layer":[
{"data":{"name":"samples"},"mark":{"type":"rect","color":"#ccccde"},"encoding":{"y":{"field":"s","type":"quantitative","axis":null,"scale":{"domain":[0,473],"reverse":true,"nice":false,"zero":false}},"y2":{"field":"e"}}},
{"data":{"values":[{"s":200,"e":250,"t":"50 samples"}]},"layer":[
{"mark":{"type":"rule","color":"#222222","strokeWidth":1},"encoding":{"x":{"value":36},"y":{"field":"s","type":"quantitative","axis":null},"y2":{"field":"e"}}},
{"mark":{"type":"rule","color":"#222222","strokeWidth":1},"encoding":{"x":{"value":32},"x2":{"value":36},"y":{"field":"s","type":"quantitative","axis":null}}},
{"mark":{"type":"rule","color":"#222222","strokeWidth":1},"encoding":{"x":{"value":32},"x2":{"value":36},"y":{"field":"e","type":"quantitative","axis":null}}},
{"transform":[{"calculate":"(datum.s+datum.e)/2","as":"m"}],"mark":{"type":"text","align":"left","baseline":"middle","fontSize":12,"dx":2},"encoding":{"x":{"value":36},"y":{"field":"m","type":"quantitative","axis":null},"text":{"field":"t"}}}
]}
]},
{"width":137,"height":463,"title":{"text":"sample_type","dx":13},"data":{"name":"types"},
"layer":[
{"mark":{"type":"rect"},"encoding":{"y":{"field":"s","type":"quantitative","axis":null,"scale":{"domain":[0,473],"reverse":true,"nice":false,"zero":false}},"y2":{"field":"e"},"color":{"field":"t","type":"nominal","legend":null,"scale":{"domain":["Solid Tissue Normal","Primary Tumor"],"range":["#dd3333","#2a7ab5"]}}}},
{"transform":[{"calculate":"(datum.s+datum.e)/2","as":"m"}],"mark":{"type":"text","align":"center","baseline":"middle","fontSize":12.3,"color":"#eef2f6"},"encoding":{"x":{"value":68.5},"y":{"field":"m","type":"quantitative","axis":null},"text":{"field":"t"}}}
]},
{"width":137,"height":463,"title":{"text":["gene expression","RNAseq -","IlluminaHiSeq"],"dx":16},"data":{"name":"expr"},
"mark":{"type":"rect","strokeWidth":0.6},"encoding":{"y":{"field":"s","type":"quantitative","axis":null,"scale":{"domain":[0,473],"reverse":true,"nice":false,"zero":false}},"y2":{"field":"e"},"color":{"field":"v","type":"quantitative","legend":null,"scale":{"domain":[0.36,4.18,8],"range":["#2b4ca0","#ffffff","#ee2a2e"],"interpolate":"rgb"}},"stroke":{"field":"v","type":"quantitative","legend":null,"scale":{"domain":[0.36,4.18,8],"range":["#2b4ca0","#ffffff","#ee2a2e"],"interpolate":"rgb"}}}},
{"width":137,"height":463,"title":{"text":["DNA methylation -","Methylation450k"],"dx":2},
"layer":[
{"data":{"name":"meth"},"mark":{"type":"rect","binSpacing":0,"clip":true},"encoding":{"x":{"field":"p","type":"quantitative","bin":{"step":1,"extent":[0,16]},"axis":null,"scale":{"domain":[0,16],"nice":false,"zero":false}},"y":{"field":"s","type":"quantitative","bin":{"step":5,"extent":[0,475]},"axis":null,"scale":{"domain":[0,473],"reverse":true,"nice":false,"zero":false}},"color":{"field":"v","type":"quantitative","legend":null,"scale":{"domain":[0.03,0.45,1],"range":["#2b4ca0","#ffffff","#f01c22"],"interpolate":"rgb"}}}},
{"data":{"name":"strip"},"mark":{"type":"rect"},"encoding":{"x":{"field":"p","type":"quantitative","axis":null,"scale":{"domain":[0,16],"nice":false,"zero":false}},"x2":{"field":"q"},"y":{"field":"s","type":"quantitative","axis":null,"scale":{"domain":[0,473],"reverse":true,"nice":false,"zero":false}},"y2":{"field":"e"},"color":{"field":"v","type":"quantitative","legend":null,"scale":{"domain":[0.03,0.45,1],"range":["#2b4ca0","#ffffff","#f01c22"],"interpolate":"rgb"}}}}
]},
{"width":137,"height":463,"title":{"text":["copy number","(gene-level) -","gistic2"],"dx":28},
"layer":[
{"data":{"name":"cnv"},"mark":{"type":"rect"},"encoding":{"y":{"field":"s","type":"quantitative","axis":null,"scale":{"domain":[0,473],"reverse":true,"nice":false,"zero":false}},"y2":{"field":"e"},"color":{"field":"v","type":"quantitative","legend":null,"scale":{"domain":[-0.79,0,0.79],"range":["#2b4ca0","#ffffff","#f01c22"],"interpolate":"rgb"}}}},
{"data":{"name":"nulls"},"layer":[
{"mark":{"type":"rect","color":"#808080"},"encoding":{"y":{"field":"s","type":"quantitative","axis":null},"y2":{"field":"e"}}},
{"transform":[{"calculate":"(datum.s+datum.e)/2","as":"m"}],"mark":{"type":"text","baseline":"middle","align":"center","fontSize":12,"color":"#222222"},"encoding":{"x":{"value":68},"y":{"field":"m","type":"quantitative","axis":null},"text":{"field":"t"}}}
]}
]},
{"width":200,"height":463,"title":{"text":["somatic mutation","(SNP and INDEL) -","MC3 public version"],"dx":32},
"layer":[
{"data":{"name":"nulls"},"layer":[
{"mark":{"type":"rect","color":"#808080"},"encoding":{"y":{"field":"s","type":"quantitative","axis":null,"scale":{"domain":[0,473],"reverse":true,"nice":false,"zero":false}},"y2":{"field":"e"}}},
{"transform":[{"calculate":"(datum.s+datum.e)/2","as":"m"}],"mark":{"type":"text","baseline":"middle","align":"center","fontSize":12,"color":"#222222"},"encoding":{"x":{"value":100},"y":{"field":"m","type":"quantitative","axis":null},"text":{"field":"t"}}}
]},
{"data":{"name":"gaps"},"mark":{"type":"rect","color":"#999999"},"encoding":{"y":{"field":"s","type":"quantitative","axis":null},"y2":{"field":"e"}}},
{"data":{"name":"muts"},"mark":{"type":"square","size":9,"opacity":1},"encoding":{"x":{"field":"p","type":"quantitative","axis":null,"scale":{"domain":[0,200],"nice":false,"zero":false}},"y":{"field":"s","type":"quantitative","axis":null},"color":{"field":"k","type":"nominal","legend":null,"scale":{"domain":["Deleterious","Missense/Inframe","Silent","Intron/RNA"],"range":["#e0203a","#1f6fc0","#2aa84a","#a0a0a0"]}}}}
]},
{"width":137,"height":150,"mark":{"type":"text","opacity":0},"data":{"values":[{"t":""}]},"encoding":{"text":{"field":"t"}}},
{"width":137,"height":150,"data":{"values":[{"t":"Solid Tissue Normal"},{"t":"Primary Tumor"}]},
"layer":[
{"mark":{"type":"rect","stroke":"#dfe6f2","strokeWidth":0.5},"encoding":{"x":{"value":0},"x2":{"value":13},"y":{"field":"t","type":"nominal","axis":null,"sort":null,"scale":{"range":[9,63],"paddingInner":0.04,"paddingOuter":0}},"color":{"field":"t","type":"nominal","legend":null,"scale":{"domain":["Solid Tissue Normal","Primary Tumor"],"range":["#ff0000","#1a41e8"]}}}},
{"mark":{"type":"text","align":"left","baseline":"middle","fontSize":12.5},"encoding":{"x":{"value":20},"y":{"field":"t","type":"nominal","axis":null,"sort":null},"text":{"field":"t"}}}
]},
{"width":137,"height":150,"data":{"values":[{"a":0.36,"b":8,"la":"0.36","lb":"8.0","t":"log2(norm_count+1)"}]},
"layer":[
{"mark":{"type":"rect","fill":{"x1":0,"y1":0,"x2":1,"y2":0,"gradient":"linear","stops":[{"offset":0,"color":"#0f3a82"},{"offset":0.25,"color":"#6f89b3"},{"offset":0.47,"color":"#e6ebf2"},{"offset":0.5,"color":"#ffffff"},{"offset":1,"color":"#ff0000"}]}},"encoding":{"x":{"field":"a","type":"quantitative","axis":null,"scale":{"domain":[-1.043,9.64],"nice":false,"zero":false}},"x2":{"field":"b"},"y":{"value":13},"y2":{"value":33}}},
{"mark":{"type":"text","align":"right","baseline":"middle","fontSize":12.5,"dx":-1},"encoding":{"x":{"field":"a","type":"quantitative","axis":null},"y":{"value":25},"text":{"field":"la"}}},
{"mark":{"type":"text","align":"left","baseline":"middle","fontSize":12.5,"dx":2},"encoding":{"x":{"field":"b","type":"quantitative","axis":null},"y":{"value":24},"text":{"field":"lb"}}},
{"mark":{"type":"text","align":"center","baseline":"middle","fontSize":12.5},"encoding":{"x":{"value":64.5},"y":{"value":50},"text":{"field":"t"}}}
]},
{"width":137,"height":150,"data":{"values":[{"a":0,"b":1,"la":"0.0","lb":"1.0","t":"beta value"}]},
"layer":[
{"mark":{"type":"rect","fill":{"x1":0,"y1":0,"x2":1,"y2":0,"gradient":"linear","stops":[{"offset":0,"color":"#0f3a82"},{"offset":0.25,"color":"#6f89b3"},{"offset":0.47,"color":"#e6ebf2"},{"offset":0.5,"color":"#ffffff"},{"offset":1,"color":"#ff0000"}]}},"encoding":{"x":{"field":"a","type":"quantitative","axis":null,"scale":{"domain":[-0.165,1.205],"nice":false,"zero":false}},"x2":{"field":"b"},"y":{"value":13},"y2":{"value":32}}},
{"mark":{"type":"text","align":"right","baseline":"middle","fontSize":12.5,"dx":-2},"encoding":{"x":{"field":"a","type":"quantitative","axis":null},"y":{"value":24},"text":{"field":"la"}}},
{"mark":{"type":"text","align":"left","baseline":"middle","fontSize":12.5,"dx":2},"encoding":{"x":{"field":"b","type":"quantitative","axis":null},"y":{"value":24},"text":{"field":"lb"}}},
{"mark":{"type":"text","align":"center","baseline":"middle","fontSize":12.5},"encoding":{"x":{"value":66},"y":{"value":49},"text":{"field":"t"}}}
]},
{"width":137,"height":150,"data":{"values":[{"a":-0.79,"b":0.79,"la":"-0.79","lb":"0.79","t":"Gistic2 copy number"}]},
"layer":[
{"mark":{"type":"rect","fill":{"x1":0,"y1":0,"x2":1,"y2":0,"gradient":"linear","stops":[{"offset":0,"color":"#0f3a82"},{"offset":0.25,"color":"#6f89b3"},{"offset":0.47,"color":"#e6ebf2"},{"offset":0.5,"color":"#ffffff"},{"offset":1,"color":"#ff0000"}]}},"encoding":{"x":{"field":"a","type":"quantitative","axis":null,"scale":{"domain":[-1.134,1.009],"nice":false,"zero":false}},"x2":{"field":"b"},"y":{"value":11},"y2":{"value":31}}},
{"mark":{"type":"text","align":"right","baseline":"middle","fontSize":12.5,"dx":-1},"encoding":{"x":{"field":"a","type":"quantitative","axis":null},"y":{"value":23},"text":{"field":"la"}}},
{"mark":{"type":"text","align":"left","baseline":"middle","fontSize":12.5,"dx":1},"encoding":{"x":{"field":"b","type":"quantitative","axis":null},"y":{"value":23},"text":{"field":"lb"}}},
{"mark":{"type":"text","align":"center","baseline":"middle","fontSize":12.5},"encoding":{"x":{"value":72},"y":{"value":49},"text":{"field":"t"}}}
]},
{"width":200,"height":150,
"layer":[
{"data":{"values":[{"k":"Deleterious"},{"k":"Missense/Inframe"},{"k":"Silent"},{"k":"Intron/RNA"}]},"layer":[
{"mark":{"type":"rect","stroke":"#e4e8f0","strokeWidth":0.5},"encoding":{"x":{"value":19.5},"x2":{"value":41},"y":{"field":"k","type":"nominal","axis":null,"sort":null,"scale":{"range":[15,130],"paddingInner":0.477,"paddingOuter":0}},"color":{"field":"k","type":"nominal","legend":null,"scale":{"domain":["Deleterious","Missense/Inframe","Silent","Intron/RNA"],"range":["#ff0000","#1a41e8","#1ed83a","#d4d4d4"]}}}},
{"mark":{"type":"text","align":"left","baseline":"middle","fontSize":12.3},"encoding":{"x":{"value":48},"y":{"field":"k","type":"nominal","axis":null,"sort":null},"text":{"field":"k"}}}
]},
{"data":{"values":[{"t":"Variant Impact"}]},"mark":{"type":"text","align":"left","baseline":"middle","fontSize":12.3},"encoding":{"x":{"value":39.5},"y":{"value":5},"text":{"field":"t"}}},
{"data":{"values":[{"t":"null: no data"}]},"mark":{"type":"text","align":"left","baseline":"middle","fontSize":12},"encoding":{"x":{"value":24},"y":{"value":145},"text":{"field":"t"}}}
]}
]}
